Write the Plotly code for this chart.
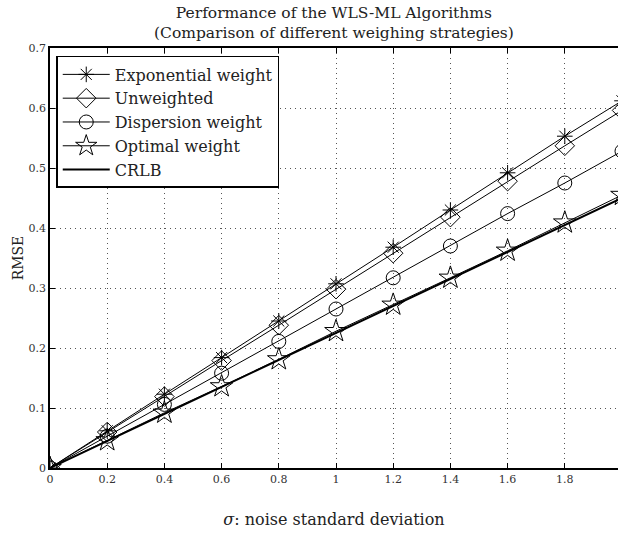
import plotly.graph_objects as go

sigma = [0, 0.2, 0.4, 0.6, 0.8, 1.0, 1.2, 1.4, 1.6, 1.8, 2.0]
exponential = [0, 0.062, 0.123, 0.184, 0.245, 0.307, 0.368, 0.430, 0.492, 0.553, 0.612]
unweighted = [0, 0.060, 0.119, 0.179, 0.238, 0.298, 0.358, 0.418, 0.478, 0.537, 0.596]
dispersion = [0, 0.053, 0.106, 0.158, 0.211, 0.265, 0.317, 0.370, 0.424, 0.475, 0.528]
optimal = [0, 0.046, 0.092, 0.136, 0.181, 0.228, 0.272, 0.317, 0.362, 0.409, 0.455]
crlb = [0, 0.045, 0.090, 0.135, 0.180, 0.225, 0.270, 0.315, 0.360, 0.405, 0.450]

x_ticks = [0, 0.2, 0.4, 0.6, 0.8, 1, 1.2, 1.4, 1.6, 1.8]
x_labels = ["0", "0.2", "0.4", "0.6", "0.8", "1", "1.2", "1.4", "1.6", "1.8"]
y_ticks = [0, 0.1, 0.2, 0.3, 0.4, 0.5, 0.6, 0.7]
y_labels = ["0", "0.1", "0.2", "0.3", "0.4", "0.5", "0.6", "0.7"]

FONT = "DejaVu Serif"
TXT = "#222"

fig = go.Figure()
series = [
    ("Exponential weight", exponential, "asterisk-open", 13),
    ("Unweighted", unweighted, "diamond-open", 15),
    ("Dispersion weight", dispersion, "circle-open", 14),
    ("Optimal weight", optimal, "star-open", 17),
]
for name, vals, sym, size in series:
    fig.add_trace(go.Scatter(
        x=sigma, y=vals, name=name, mode="lines+markers",
        line=dict(color="black", width=1),
        marker=dict(symbol=sym, size=size, color="black", line=dict(width=1, color="black")),
    ))
fig.add_trace(go.Scatter(
    x=sigma, y=crlb, name="CRLB", mode="lines",
    line=dict(color="black", width=2),
))

fig.add_annotation(
    text="Performance of the WLS-ML Algorithms<br>(Comparison of different weighing strategies)",
    xref="paper", yref="paper", x=0.5, y=1, xanchor="center", yanchor="bottom",
    yshift=4, showarrow=False, align="center",
    font=dict(family=FONT, size=15.5, color=TXT),
)

fig.update_layout(
    width=618, height=537,
    margin=dict(l=50, r=0, t=48, b=69),
    paper_bgcolor="white", plot_bgcolor="white",
    font=dict(family=FONT, color=TXT, size=12),
    legend=dict(
        x=0.011, y=0.981, xanchor="left", yanchor="top",
        bgcolor="white", bordercolor="black", borderwidth=1.5,
        font=dict(family=FONT, size=16, color=TXT),
        tracegroupgap=0, itemwidth=47,
    ),
    showlegend=True,
)
fig.update_xaxes(
    range=[0, 1.986], tickvals=x_ticks, ticktext=x_labels,
    ticks="inside", ticklen=5, tickcolor="black", mirror="ticks",
    showline=True, linecolor="black", linewidth=1.5,
    showgrid=True, gridcolor="#555", griddash="1px,4px", gridwidth=1,
    zeroline=False,
    tickfont=dict(family=FONT, size=11, color="#333"),
    title=dict(text="<i>σ</i>: noise standard deviation", standoff=29,
               font=dict(family=FONT, size=16, color=TXT)),
)
fig.update_yaxes(
    range=[0, 0.7], tickvals=y_ticks, ticktext=y_labels,
    ticks="inside", ticklen=5, tickcolor="black",
    showline=True, linecolor="black", linewidth=1.5,
    showgrid=True, gridcolor="#555", griddash="1px,4px", gridwidth=1,
    zeroline=False,
    tickfont=dict(family=FONT, size=11, color="#333"),
    title=dict(text="RMSE", standoff=2, font=dict(family=FONT, size=14, color=TXT)),
)

fig.write_html(
    "out.html",
    config={"displayModeBar": False},
    post_script="document.body.style.margin='0px';document.body.style.overflow='hidden';",
)
